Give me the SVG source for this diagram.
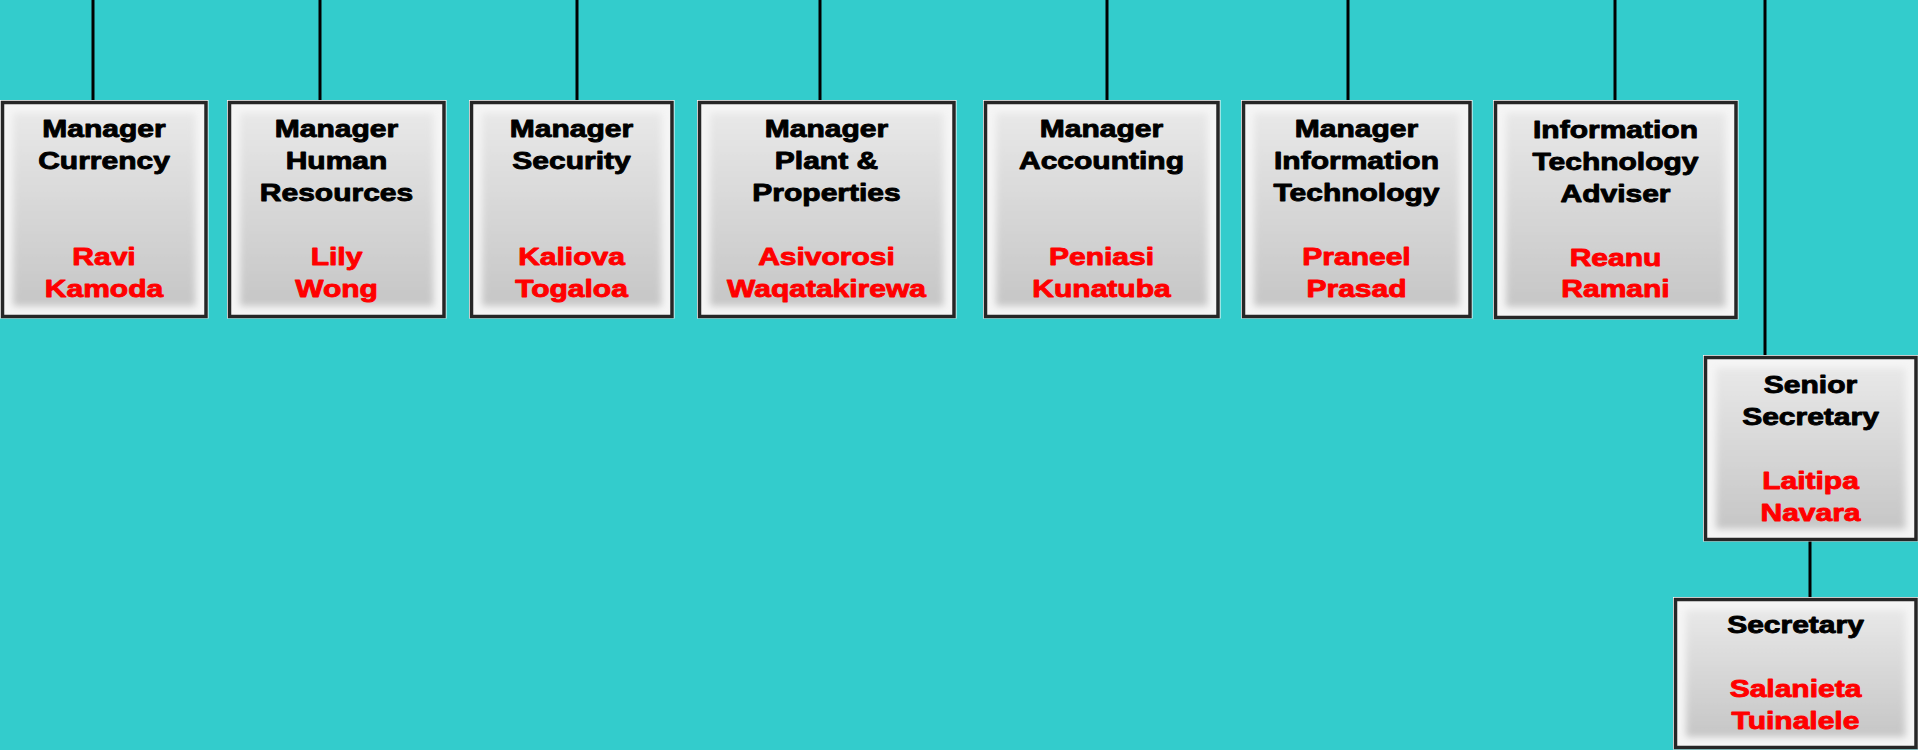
<svg xmlns="http://www.w3.org/2000/svg" width="1918" height="750" viewBox="0 0 1918 750">
<style>
.conn line{stroke:#000;stroke-width:3}
.edge{fill:none;stroke:#ffffff;stroke-width:1.5}
.frame{fill:#f5f5f5;stroke:#262626;stroke-width:3.5}
.face{fill:url(#face);filter:url(#soft)}
text{font-family:"Liberation Sans",Arial,sans-serif;font-weight:bold;font-size:24px;text-anchor:middle;stroke-width:0.9px;stroke-linejoin:round}
.t{fill:#000;stroke:#000}
.r{fill:#ff0000;stroke:#ff0000}
</style>
<defs>
<linearGradient id="face" x1="0" y1="0" x2="0" y2="1">
<stop offset="0" stop-color="#e8e8e8"/>
<stop offset="1" stop-color="#c6c6c6"/>
</linearGradient>
<filter id="soft" x="-10%" y="-10%" width="120%" height="120%">
<feGaussianBlur stdDeviation="3.5"/>
</filter>
</defs>
<rect width="1918" height="750" fill="#33cccc"/>
<g id="connectors" class="conn">
<line x1="93" y1="0" x2="93" y2="102"/>
<line x1="320" y1="0" x2="320" y2="102"/>
<line x1="577" y1="0" x2="577" y2="102"/>
<line x1="820" y1="0" x2="820" y2="102"/>
<line x1="1107" y1="0" x2="1107" y2="102"/>
<line x1="1348" y1="0" x2="1348" y2="102"/>
<line x1="1615" y1="0" x2="1615" y2="102"/>
<line x1="1765" y1="0" x2="1765" y2="357"/>
<line x1="1810" y1="539" x2="1810" y2="599"/>
</g>
<g id="n1">
<rect class="edge" x="0.75" y="100.75" width="207" height="217"/>
<rect class="frame" x="2.5" y="102.5" width="203.5" height="214"/>
<rect class="face" x="13" y="113" width="182.5" height="193"/>
<g transform="translate(104 0) scale(1.25 1)">
<text class="t" x="0" y="137">Manager</text>
<text class="t" x="0" y="169">Currency</text>
<text class="r" x="0" y="265">Ravi</text>
<text class="r" x="0" y="297">Kamoda</text>
</g>
</g>
<g id="n2">
<rect class="edge" x="227.75" y="100.75" width="218" height="217"/>
<rect class="frame" x="229.5" y="102.5" width="214.5" height="214"/>
<rect class="face" x="240" y="113" width="193.5" height="193"/>
<g transform="translate(336.5 0) scale(1.25 1)">
<text class="t" x="0" y="137">Manager</text>
<text class="t" x="0" y="169">Human</text>
<text class="t" x="0" y="201">Resources</text>
<text class="r" x="0" y="265">Lily</text>
<text class="r" x="0" y="297">Wong</text>
</g>
</g>
<g id="n3">
<rect class="edge" x="469.75" y="100.75" width="204" height="217"/>
<rect class="frame" x="471.5" y="102.5" width="200.5" height="214"/>
<rect class="face" x="482" y="113" width="179.5" height="193"/>
<g transform="translate(571.5 0) scale(1.25 1)">
<text class="t" x="0" y="137">Manager</text>
<text class="t" x="0" y="169">Security</text>
<text class="r" x="0" y="265">Kaliova</text>
<text class="r" x="0" y="297">Togaloa</text>
</g>
</g>
<g id="n4">
<rect class="edge" x="697.75" y="100.75" width="258" height="217"/>
<rect class="frame" x="699.5" y="102.5" width="254.5" height="214"/>
<rect class="face" x="710" y="113" width="233.5" height="193"/>
<g transform="translate(826.5 0) scale(1.25 1)">
<text class="t" x="0" y="137">Manager</text>
<text class="t" x="0" y="169">Plant &amp;</text>
<text class="t" x="0" y="201">Properties</text>
<text class="r" x="0" y="265">Asivorosi</text>
<text class="r" x="0" y="297">Waqatakirewa</text>
</g>
</g>
<g id="n5">
<rect class="edge" x="983.75" y="100.75" width="236" height="217"/>
<rect class="frame" x="985.5" y="102.5" width="232.5" height="214"/>
<rect class="face" x="996" y="113" width="211.5" height="193"/>
<g transform="translate(1101.5 0) scale(1.25 1)">
<text class="t" x="0" y="137">Manager</text>
<text class="t" x="0" y="169">Accounting</text>
<text class="r" x="0" y="265">Peniasi</text>
<text class="r" x="0" y="297">Kunatuba</text>
</g>
</g>
<g id="n6">
<rect class="edge" x="1241.75" y="100.75" width="230" height="217"/>
<rect class="frame" x="1243.5" y="102.5" width="226.5" height="214"/>
<rect class="face" x="1254" y="113" width="205.5" height="193"/>
<g transform="translate(1356.5 0) scale(1.25 1)">
<text class="t" x="0" y="137">Manager</text>
<text class="t" x="0" y="169">Information</text>
<text class="t" x="0" y="201">Technology</text>
<text class="r" x="0" y="265">Praneel</text>
<text class="r" x="0" y="297">Prasad</text>
</g>
</g>
<g id="n7">
<rect class="edge" x="1493.75" y="100.75" width="244" height="218"/>
<rect class="frame" x="1495.5" y="102.5" width="240.5" height="215"/>
<rect class="face" x="1506" y="113" width="219.5" height="194"/>
<g transform="translate(1615.5 0) scale(1.25 1)">
<text class="t" x="0" y="138">Information</text>
<text class="t" x="0" y="170">Technology</text>
<text class="t" x="0" y="202">Adviser</text>
<text class="r" x="0" y="266">Reanu</text>
<text class="r" x="0" y="297">Ramani</text>
</g>
</g>
<g id="n8">
<rect class="edge" x="1703.75" y="355.75" width="214" height="185"/>
<rect class="frame" x="1705.5" y="357.5" width="210.5" height="182"/>
<rect class="face" x="1716" y="368" width="189.5" height="161"/>
<g transform="translate(1810.5 0) scale(1.25 1)">
<text class="t" x="0" y="393">Senior</text>
<text class="t" x="0" y="425">Secretary</text>
<text class="r" x="0" y="489">Laitipa</text>
<text class="r" x="0" y="521">Navara</text>
</g>
</g>
<g id="n9">
<rect class="edge" x="1673.75" y="597.75" width="244" height="151"/>
<rect class="frame" x="1675.5" y="599.5" width="240.5" height="148"/>
<rect class="face" x="1686" y="610" width="219.5" height="127"/>
<g transform="translate(1795.5 0) scale(1.25 1)">
<text class="t" x="0" y="633">Secretary</text>
<text class="r" x="0" y="697">Salanieta</text>
<text class="r" x="0" y="729">Tuinalele</text>
</g>
</g>
</svg>
